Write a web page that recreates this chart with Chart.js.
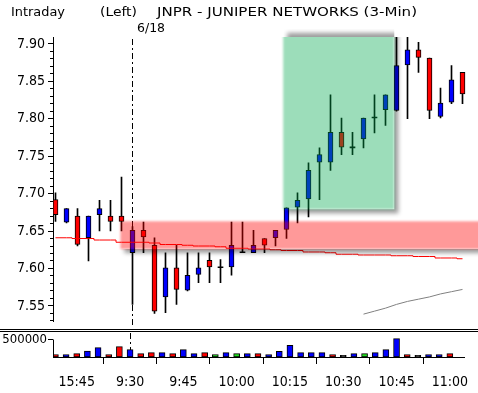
<!DOCTYPE html>
<html>
<head>
<meta charset="utf-8">
<script src="https://cdn.jsdelivr.net/npm/chart.js@4"></script>
<style>
  html, body { margin: 0; padding: 0; background: #fff; }
  #wrap { position: relative; width: 478px; height: 393px; overflow: hidden; }
  canvas { position: absolute; left: 0; }
  #price { top: 0; }
  #vol { top: 320px; }
</style>
</head>
<body>
<div id="wrap">
  <canvas id="price" width="478" height="333"></canvas>
  <canvas id="vol" width="478" height="73"></canvas>
</div>
<script>
// 3-minute bars: 15:39..15:57 (prev day), then 9:30..11:00 (6/18)
const opens  = [7.692, 7.662, 7.670, 7.641, 7.672, 7.670, 7.670, 7.621, 7.651, 7.631,
                7.562, 7.601, 7.571, 7.592, 7.611, 7.601, 7.602, 7.621, 7.621, 7.640,
                7.641, 7.652, 7.682, 7.693, 7.742, 7.742, 7.782, 7.761, 7.773, 7.801,
                7.812, 7.811, 7.872, 7.892, 7.881, 7.803, 7.822, 7.862];
const highs  = [7.701, 7.680, 7.680, 7.670, 7.691, 7.691, 7.722, 7.656, 7.662, 7.641,
                7.621, 7.631, 7.621, 7.621, 7.621, 7.612, 7.662, 7.662, 7.651, 7.640,
                7.651, 7.681, 7.701, 7.741, 7.761, 7.832, 7.801, 7.782, 7.801, 7.832,
                7.832, 7.912, 7.912, 7.902, 7.881, 7.841, 7.871, 7.862];
const lows   = [7.663, 7.661, 7.630, 7.610, 7.650, 7.650, 7.650, 7.552, 7.621, 7.540,
                7.541, 7.552, 7.570, 7.581, 7.581, 7.581, 7.591, 7.621, 7.621, 7.621,
                7.630, 7.640, 7.661, 7.669, 7.692, 7.731, 7.752, 7.752, 7.761, 7.781,
                7.791, 7.810, 7.800, 7.862, 7.800, 7.801, 7.820, 7.820];
const closes = [7.672, 7.680, 7.632, 7.670, 7.680, 7.663, 7.663, 7.651, 7.642, 7.543,
                7.601, 7.572, 7.591, 7.601, 7.602, 7.601, 7.631, 7.621, 7.631, 7.631,
                7.651, 7.681, 7.691, 7.731, 7.752, 7.782, 7.762, 7.761, 7.801, 7.801,
                7.832, 7.871, 7.892, 7.882, 7.811, 7.821, 7.852, 7.833];
const movingAvg = [7.641, 7.641, 7.640, 7.640, 7.638, 7.638, 7.635, 7.635, 7.635, 7.634,
                   7.632, 7.632, 7.631, 7.630, 7.630, 7.629, 7.627, 7.627, 7.626, 7.626,
                   7.625, 7.624, 7.624, 7.622, 7.622, 7.621, 7.619, 7.619, 7.618, 7.618,
                   7.618, 7.617, 7.617, 7.616, 7.616, 7.614, 7.614, 7.613];
// grey line starts at bar 28
const greyStart = 28;
const greyLine = [7.539, 7.543, 7.547, 7.552, 7.556, 7.559, 7.562, 7.566, 7.569, 7.572];
const volumes = [70000, 70000, 100000, 176000, 275000, 70000, 305000, 216000, 100000, 128000,
                 128000, 100000, 216000, 100000, 128000, 70000, 128000, 100000, 100000, 100000,
                 70000, 167000, 343000, 128000, 128000, 128000, 70000, 50000, 100000, 100000,
                 128000, 216000, 539000, 70000, 50000, 70000, 70000, 100000];
// u = up, d = down, n = unchanged, z = flat
const volTone = ['d','u','d','u','u','d','d','u','d','d','u','d','u','u','d','n','u','n','u','d',
                 'u','u','u','u','u','u','d','z','u','n','u','u','u','d','z','u','u','d'];
const xTickIndex  = [2, 7, 12, 17, 22, 27, 32, 37];
const xTickLabels = ['15:45', '9:30', '9:45', '10:00', '10:15', '10:30', '10:45', '11:00'];
const priceTicks = [7.55, 7.60, 7.65, 7.70, 7.75, 7.80, 7.85, 7.90];
const sessionStart = 7;   // 9:30 bar
// highlighted zones: bar range and price range
const redZone   = { from: 5.9, to: 40, hi: 7.663, lo: 7.626 };
const greenZone = { from: 20.7, to: 30.8, hi: 7.92, lo: 7.679 };

const X_MIN = -2.5 / 11, X_MAX = X_MIN + 425 / 11;
const FONT = "'DejaVu Sans Condensed', 'DejaVu Sans', sans-serif";
Chart.defaults.font.family = FONT;
Chart.defaults.color = '#000';

const idx = opens.map((_, i) => i);
const candleColor = i => closes[i] > opens[i] ? '#0000ff' : closes[i] < opens[i] ? '#ff0000' : '#000';
const toneColor = { u: '#0000ff', d: '#ff0000', n: '#22dd22', z: '#000000' };

function fitText(ctx, text, x, y, w) {
  const m = ctx.measureText(text).width;
  ctx.save();
  ctx.translate(x, y);
  ctx.scale(w / m, 1);
  ctx.fillText(text, 0, 0);
  ctx.restore();
}

function drawDivider(chart, top, bottom) {
  const ctx = chart.ctx;
  const x = Math.round(chart.scales.x.getPixelForValue(sessionStart) - 0.5) + 0.5;
  ctx.save();
  ctx.strokeStyle = '#000';
  ctx.lineWidth = 1;
  ctx.setLineDash([6, 3, 2, 3]);
  ctx.beginPath();
  ctx.moveTo(x, top);
  ctx.lineTo(x, bottom);
  ctx.stroke();
  ctx.restore();
}

function drawZone(chart, z, fill) {
  const { ctx, chartArea: a, scales } = chart;
  const x1 = scales.x.getPixelForValue(z.from), x2 = scales.x.getPixelForValue(z.to);
  const y1 = scales.y.getPixelForValue(z.hi), y2 = scales.y.getPixelForValue(z.lo);
  // drop shadow, only outside the box
  ctx.save();
  ctx.beginPath();
  ctx.rect(a.left, a.top, a.width, a.height);
  ctx.rect(x1, y1, x2 - x1, y2 - y1);
  ctx.clip('evenodd');
  ctx.filter = 'blur(2px)';
  ctx.fillStyle = 'rgba(0,0,0,0.38)';
  ctx.fillRect(x1 + 4, y1 + 4, x2 - x1, y2 - y1);
  ctx.restore();
  ctx.save();
  ctx.beginPath();
  ctx.rect(a.left, a.top, a.width, a.height);
  ctx.clip();
  ctx.filter = 'blur(1px)';
  ctx.fillStyle = fill;
  ctx.fillRect(x1, y1, x2 - x1, y2 - y1);
  ctx.restore();
}

const pricePlugin = {
  id: 'pricePlugin',
  beforeDatasetsDraw(chart) {
    drawDivider(chart, chart.chartArea.top + 2, chart.chartArea.bottom + 6);
  },
  afterDatasetsDraw(chart) {
    drawZone(chart, redZone, 'rgba(255,0,0,0.4)');
    drawZone(chart, greenZone, 'rgba(0,167,77,0.39)');
  },
  afterDraw(chart) {
    const { ctx, chartArea: a, scales } = chart;
    ctx.save();
    // minor ticks
    ctx.strokeStyle = '#000';
    ctx.lineWidth = 1;
    ctx.beginPath();
    for (let k = 753; k <= 790; k++) {
      if (k % 5 === 0) continue;
      const y = Math.round(scales.y.getPixelForValue(k / 100) - 0.5) + 0.5;
      ctx.moveTo(a.left - 3, y);
      ctx.lineTo(a.left, y);
    }
    ctx.stroke();
    // double separator line
    ctx.beginPath();
    ctx.moveTo(0, 329.5); ctx.lineTo(478, 329.5);
    ctx.moveTo(0, 331.5); ctx.lineTo(478, 331.5);
    ctx.stroke();
    // header
    ctx.fillStyle = '#000';
    ctx.textBaseline = 'alphabetic';
    ctx.font = '13px ' + FONT;
    fitText(ctx, 'Intraday', 11, 16, 54);
    fitText(ctx, '(Left)', 100, 16, 37);
    fitText(ctx, 'JNPR - JUNIPER NETWORKS (3-Min)', 157, 16, 260);
    fitText(ctx, '6/18', 137, 32, 28);
    ctx.restore();
  }
};

new Chart(document.getElementById('price'), {
  type: 'bar',
  data: {
    datasets: [
      {
        type: 'line', order: 0,
        data: idx.map(i => ({ x: i, y: movingAvg[i] })),
        borderColor: '#ff0000', borderWidth: 1, pointRadius: 0, stepped: 'middle'
      },
      {
        type: 'line', order: 0,
        data: greyLine.map((v, k) => ({ x: greyStart + k, y: v })),
        borderColor: '#808080', borderWidth: 1, pointRadius: 0
      },
      {
        order: 1,
        data: idx.map(i => ({ x: i, y: [opens[i], closes[i]] })),
        barThickness: 5, grouped: false, minBarLength: 1, borderSkipped: false,
        backgroundColor: c => candleColor(c.dataIndex),
        borderColor: '#000',
        borderWidth: c => opens[c.dataIndex] === closes[c.dataIndex] ? 0 : 1
      },
      {
        order: 2,
        data: idx.map(i => ({ x: i, y: [lows[i], highs[i]] })),
        barThickness: 1, grouped: false, borderWidth: 0, backgroundColor: '#000'
      }
    ]
  },
  options: {
    responsive: false, animation: false,
    layout: { padding: { top: 37, bottom: 6, left: 0, right: 0 } },
    plugins: { legend: { display: false }, tooltip: { enabled: false } },
    scales: {
      x: { type: 'linear', min: X_MIN, max: X_MAX, display: false, offset: false },
      y: {
        min: 7.52903, max: 7.90918,
        afterFit: s => { s.width = 53; },
        afterBuildTicks: s => { s.ticks = priceTicks.map(v => ({ value: v })); },
        ticks: { callback: v => v.toFixed(2), font: { size: 14 }, padding: 3, color: '#000' },
        grid: { drawOnChartArea: false, color: '#000', tickLength: 5 },
        border: { color: '#000' }
      }
    }
  },
  plugins: [pricePlugin]
});

const volPlugin = {
  id: 'volPlugin',
  beforeDatasetsDraw(chart) {
    drawDivider(chart, 13, chart.chartArea.bottom);
  },
  afterDraw(chart) {
    const { ctx, chartArea: a, scales } = chart;
    const y1 = scales.y.getPixelForValue(500000);
    ctx.save();
    ctx.strokeStyle = '#000';
    ctx.lineWidth = 1;
    ctx.beginPath();
    ctx.moveTo(a.left + 0.5, Math.round(y1) - 0.5);
    ctx.lineTo(a.left + 0.5, a.bottom);
    ctx.stroke();
    ctx.restore();
  }
};

new Chart(document.getElementById('vol'), {
  type: 'bar',
  data: {
    datasets: [{
      data: idx.map(i => ({ x: i, y: volumes[i] })),
      barThickness: 6, grouped: false, borderSkipped: false,
      backgroundColor: c => toneColor[volTone[c.dataIndex]],
      borderColor: '#000', borderWidth: 1
    }]
  },
  options: {
    responsive: false, animation: false,
    layout: { padding: { top: 16, bottom: 0, left: 0, right: 0 } },
    plugins: { legend: { display: false }, tooltip: { enabled: false } },
    scales: {
      x: {
        type: 'linear', min: X_MIN, max: X_MAX, offset: false,
        afterFit: s => { s.height = 36; },
        afterBuildTicks: s => { s.ticks = xTickIndex.map(v => ({ value: v })); },
        ticks: {
          callback: v => xTickLabels[xTickIndex.indexOf(v)],
          maxRotation: 0, autoSkip: false, font: { size: 14 }, padding: 10, color: '#000'
        },
        grid: { drawOnChartArea: false, color: '#000', tickLength: 7 },
        border: { color: '#000' }
      },
      y: {
        min: 0, max: 617647,
        afterFit: s => { s.width = 53; },
        afterBuildTicks: s => { s.ticks = [{ value: 500000 }]; },
        ticks: { callback: v => String(v), font: { size: 13 }, padding: 1, color: '#000' },
        grid: { drawOnChartArea: false, color: '#000', tickLength: 5 },
        border: { display: false }
      }
    }
  },
  plugins: [volPlugin]
});
</script>
</body>
</html>
